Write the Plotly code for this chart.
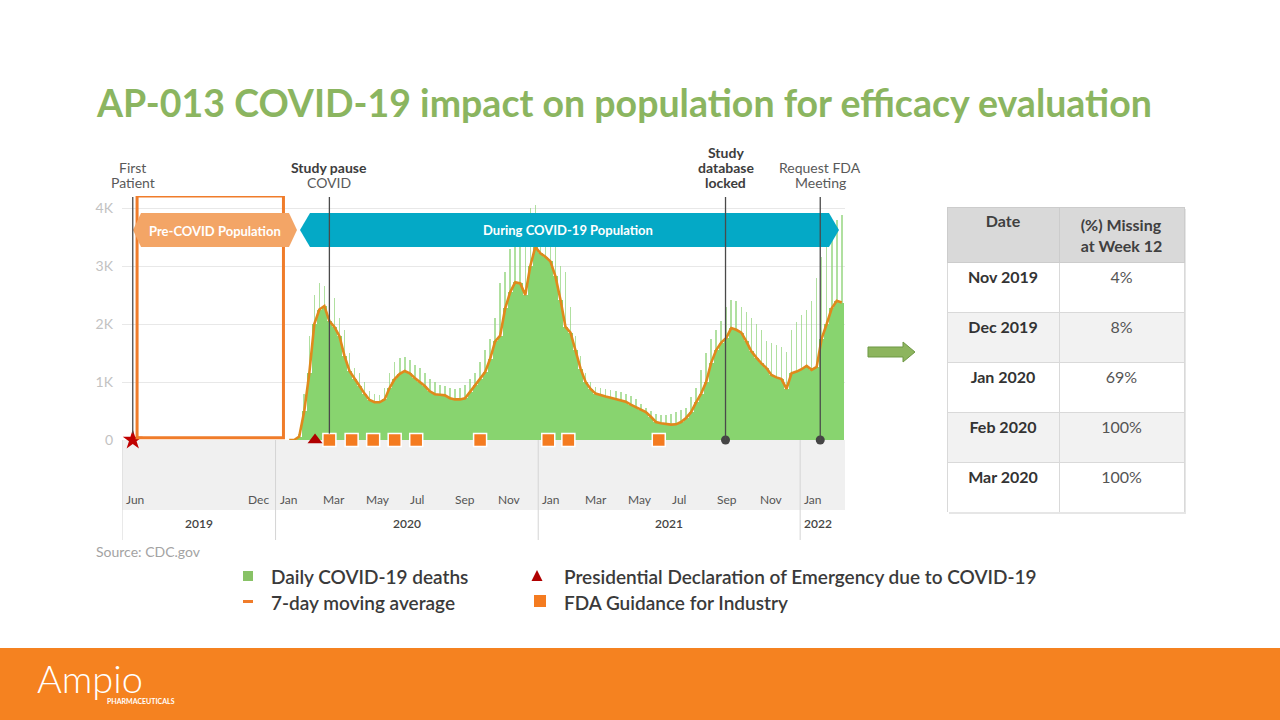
import pandas as pd
import plotly.graph_objects as go

# ---------------- data ----------------
week_start = "2020-01-20"
avg7 = [0, 0, 60, 500, 1150, 2000, 2250, 2310, 2050, 1950,
        1790, 1450, 1190, 1050, 930, 800, 690, 650, 650, 700,
        900, 1050, 1140, 1190, 1150, 1070, 1000, 930, 840, 790,
        780, 770, 720, 700, 700, 720, 830, 950, 1050, 1170,
        1400, 1700, 1800, 2270, 2550, 2720, 2700, 2500, 3000, 3330,
        3220, 3160, 3080, 2820, 2420, 1950, 1850, 1560, 1230, 1000,
        880, 800, 770, 750, 730, 710, 690, 660, 610, 570,
        520, 480, 400, 310, 290, 280, 265, 270, 310, 380,
        480, 650, 800, 1000, 1330, 1550, 1680, 1760, 1930, 1900,
        1850, 1700, 1530, 1420, 1320, 1240, 1120, 1080, 1050, 880,
        1150, 1180, 1220, 1280, 1210, 1260, 1750, 2000, 2270, 2400, 2370]
daily_peak = [0, 0, 100, 800, 1800, 2500, 2700, 2650, 2550, 2450,
              2100, 1900, 1500, 1250, 1150, 1000, 850, 800, 780, 900,
              1150, 1350, 1420, 1430, 1380, 1300, 1250, 1150, 1050, 1000,
              950, 930, 900, 880, 900, 950, 1050, 1150, 1350, 1550,
              1750, 2100, 2700, 2900, 3300, 3400, 3500, 3650, 4000, 4050,
              3900, 3800, 3500, 3400, 3000, 2900, 2300, 1800, 1450, 1150,
              1000, 920, 900, 880, 860, 850, 820, 800, 760, 700,
              620, 550, 500, 450, 430, 430, 450, 480, 520, 560,
              750, 900, 1200, 1500, 1750, 1900, 2050, 2300, 2420, 2400,
              2300, 2200, 2100, 2000, 1900, 1700, 1680, 1640, 1600, 1520,
              1900, 2030, 2150, 2240, 2400, 2790, 3150, 3400, 3500, 3800, 3880]

fda_guidance_dates = ["2020-03-16", "2020-04-16", "2020-05-16", "2020-06-15", "2020-07-15",
                      "2020-10-12", "2021-01-15", "2021-02-12", "2021-06-18"]
emergency_dates = ["2020-02-25"]

event_dates = ["2019-06-16", "2020-03-16", "2021-09-19", "2022-01-29"]
event_lines = [[("First", False), ("Patient", False)],
               [("Study pause", True), ("COVID", False)],
               [("Study", True), ("database", True), ("locked", True)],
               [("Request FDA", False), ("Meeting", False)]]
star_dates = ["2019-06-16"]
dot_dates = ["2021-09-19", "2022-01-29"]

precovid_box = ["2019-06-22", "2020-01-12"]

month_dates = ["2019-06-01", "2019-12-01", "2020-01-01", "2020-03-01", "2020-05-01", "2020-07-01",
               "2020-09-01", "2020-11-01", "2021-01-01", "2021-03-01", "2021-05-01", "2021-07-01",
               "2021-09-01", "2021-11-01", "2022-01-01"]
month_labels = ["Jun", "Dec", "Jan", "Mar", "May", "Jul", "Sep", "Nov",
                "Jan", "Mar", "May", "Jul", "Sep", "Nov", "Jan"]
year_bounds = ["2019-06-01", "2020-01-01", "2021-01-01", "2022-01-01", "2022-03-04 12:00"]
year_labels = ["2019", "2020", "2021", "2022"]

y_ticks = [0, 1000, 2000, 3000, 4000]
y_tick_labels = ["0", "1K", "2K", "3K", "4K"]

table_dates = ["Nov 2019", "Dec 2019", "Jan 2020", "Feb 2020", "Mar 2020"]
table_missing = ["4%", "8%", "69%", "100%", "100%"]

# ---------------- helpers ----------------
W, H = 1280, 720
def px(x): return x / W
def py(y): return 1 - y / H
def poly(points):
    return "M " + " L ".join(f"{px(a):.5f},{py(b):.5f}" for a, b in points) + " Z"

FONT = "Lato, 'Open Sans', sans-serif"
DAY_MS = 86400000
weeks = pd.date_range(week_start, periods=len(avg7), freq="7D")
YMAX = 4207

def text(x, y, s, size, color, xanchor="center", weight=None, xref="paper", xshift=0):
    f = dict(size=size, color=color)
    if weight:
        f["weight"] = weight
    return dict(x=x, y=py(y), xref=xref, yref="paper", text=s, showarrow=False,
                xanchor=xanchor, yanchor="middle", xshift=xshift, font=f, borderpad=0)

fig = go.Figure()
fig.add_trace(go.Bar(x=weeks, y=daily_peak, width=2.2 * DAY_MS,
                     marker=dict(color="rgba(150,214,128,0.75)", line=dict(width=0)), hoverinfo="skip"))
fig.add_trace(go.Bar(x=weeks, y=avg7, width=7 * DAY_MS,
                     marker=dict(color="#88d46f", line=dict(width=0)), name="Daily COVID-19 deaths"))
fig.add_trace(go.Scatter(x=weeks, y=avg7, mode="lines", line=dict(color="#E0891C", width=2.6),
                         name="7-day moving average"))
fig.add_trace(go.Scatter(x=fda_guidance_dates, y=[0] * len(fda_guidance_dates), mode="markers",
                         marker=dict(symbol="square", size=13, color="#F47B20", line=dict(color="white", width=1.5)),
                         cliponaxis=False, name="FDA Guidance for Industry"))
fig.add_trace(go.Scatter(x=emergency_dates, y=[0] * len(emergency_dates), mode="markers",
                         marker=dict(symbol="triangle-up", size=13, color="#B00000"),
                         cliponaxis=False, name="Presidential Declaration"))
fig.add_trace(go.Scatter(x=star_dates, y=[0], mode="markers",
                         marker=dict(symbol="star", size=15, color="#C00000"), cliponaxis=False))
fig.add_trace(go.Scatter(x=dot_dates, y=[0] * len(dot_dates), mode="markers",
                         marker=dict(symbol="circle", size=9, color="#454545"), cliponaxis=False))

# table
row_fill = ["white" if i % 2 == 0 else "#f2f2f2" for i in range(len(table_dates))]
fig.add_trace(go.Table(
    domain=dict(x=[px(947), px(1184)], y=[py(512), py(207)]),
    columnwidth=[112, 125],
    header=dict(values=["Date", "(%) Missing<br>at Week 12"],
                fill_color="#d9d9d9", line_color="#cccccc", align="center",
                font=dict(family=FONT, size=16, color="#404040", weight=700), height=48),
    cells=dict(values=[table_dates, table_missing],
               fill_color=[row_fill, row_fill], line_color="#d9d9d9", align="center",
               font=dict(family=FONT, size=16, color=["#333333", "#555555"], weight=[700, 400]),
               height=50)))

shapes = []
ann = []

# band under the axis
shapes.append(dict(type="rect", xref="paper", yref="paper", x0=px(122), x1=px(845), y0=py(510), y1=py(440),
                   fillcolor="#f0f0f0", line=dict(width=0), layer="below"))
for b in year_bounds[:-1]:
    shapes.append(dict(type="line", xref="x", yref="paper", x0=b, x1=b, y0=py(540), y1=py(440),
                       line=dict(color="#d4d4d4", width=1), layer="below"))
for d, lab in zip(month_dates, month_labels):
    if lab == "Dec":
        ann.append(text(d, 499, lab, 12, "#555555", xanchor="right", xref="x", xshift=17))
    else:
        ann.append(text(d, 499, lab, 12, "#555555", xanchor="left", xref="x", xshift=3))
ts = [pd.Timestamp(b) for b in year_bounds]
for i, lab in enumerate(year_labels):
    if i < len(year_labels) - 1:
        mid = ts[i] + (ts[i + 1] - ts[i]) / 2
        ann.append(text(mid, 523, lab, 12, "#444444", weight=600, xref="x"))
    else:
        ann.append(text(ts[i], 523, lab, 12, "#444444", xanchor="left", weight=600, xref="x", xshift=3))

# pre-covid box
shapes.append(dict(type="rect", xref="x", yref="y", x0=precovid_box[0], x1=precovid_box[1], y0=40, y1=YMAX,
                   line=dict(color="#F07C2A", width=3), layer="above"))
# population arrows
shapes.append(dict(type="path", xref="paper", yref="paper",
                   path=poly([(133, 230), (141, 213), (289, 213), (297, 230), (289, 247), (141, 247)]),
                   fillcolor="#F3A566", line=dict(width=0), layer="above"))
shapes.append(dict(type="path", xref="paper", yref="paper",
                   path=poly([(300, 230), (310, 213), (829, 213), (839, 230), (829, 247), (310, 247)]),
                   fillcolor="#04A9C6", line=dict(width=0), layer="above"))
ann.append(text(px(215), 231, "<b>Pre-COVID Population</b>", 13, "white"))
ann.append(text(px(568), 230, "<b>During COVID-19 Population</b>", 13, "white"))

# event lines + labels
for d, lines in zip(event_dates, event_lines):
    end = 0 if d in dot_dates else 110
    shapes.append(dict(type="line", xref="x", yref="y", x0=d, x1=d, y0=end, y1=(440 - 197) / 58 * 1000,
                       line=dict(color="#4a4a4a", width=1.3), layer="above"))
    n = len(lines)
    for k, (txt, bold) in enumerate(lines):
        yy = 182 - (n - 1 - k) * 15
        ann.append(text(d, yy, f"<b>{txt}</b>" if bold else txt, 14,
                        "#3d3d3d" if bold else "#595959", xref="x"))

# title / source
ann.append(text(px(95), 103, "<b>AP-013 COVID-19 impact on population for efficacy evaluation</b>",
                37.5, "#8BB560", xanchor="left"))
ann.append(text(px(95), 551, "Source: CDC.gov", 14, "#a3a3a3", xanchor="left"))

# legend
shapes.append(dict(type="rect", xref="paper", yref="paper", x0=px(243), x1=px(253), y0=py(581), y1=py(571),
                   fillcolor="#88c266", line=dict(width=0)))
shapes.append(dict(type="rect", xref="paper", yref="paper", x0=px(243), x1=px(253), y0=py(603), y1=py(600),
                   fillcolor="#F07C2A", line=dict(width=0)))
shapes.append(dict(type="path", xref="paper", yref="paper", path=poly([(537, 570), (531.5, 581), (542.5, 581)]),
                   fillcolor="#B00000", line=dict(width=0)))
shapes.append(dict(type="rect", xref="paper", yref="paper", x0=px(534), x1=px(546), y0=py(607), y1=py(595),
                   fillcolor="#F47B20", line=dict(width=0)))
for (tx, ty, txt) in [(270, 576, "Daily COVID-19 deaths"), (270, 602, "7-day moving average"),
                      (563, 576, "Presidential Declaration of Emergency due to COVID-19"),
                      (563, 602, "FDA Guidance for Industry")]:
    ann.append(text(px(tx), ty, txt, 19, "#3a3a3a", xanchor="left", weight=600))

# green block arrow
shapes.append(dict(type="path", xref="paper", yref="paper",
                   path=poly([(868, 347), (903, 347), (903, 342), (915, 352), (903, 362), (903, 357), (868, 357)]),
                   fillcolor="#8DB55E", line=dict(color="#6E9845", width=1)))
# table shadow
shapes.append(dict(type="rect", xref="paper", yref="paper", x0=px(949), x1=px(1186), y0=py(514), y1=py(209),
                   fillcolor="#e6e6e6", line=dict(width=0), layer="below"))

# footer
shapes.append(dict(type="rect", xref="paper", yref="paper", x0=0, x1=1, y0=-0.05, y1=py(648),
                   fillcolor="#F58220", line=dict(width=0), layer="below"))
ann.append(text(px(36), 678, "Ampio", 38, "white", xanchor="left", weight=300))
ann.append(text(px(106), 701, "<b>PHARMACEUTICALS</b>", 7, "white", xanchor="left"))

fig.update_layout(
    width=W, height=H, autosize=False, margin=dict(l=0, r=0, t=0, b=0, pad=0, autoexpand=False),
    paper_bgcolor="white", plot_bgcolor="rgba(0,0,0,0)",
    barmode="overlay", bargap=0, showlegend=False,
    font=dict(family=FONT, color="#444444"),
    xaxis=dict(type="date", range=[year_bounds[0], year_bounds[-1]], domain=[px(122), px(845)],
               showgrid=False, showticklabels=False, zeroline=False, showline=False, ticks="",
               automargin=False),
    yaxis=dict(range=[0, YMAX], domain=[py(440), py(196)], tickvals=y_ticks, ticktext=y_tick_labels,
               gridcolor="#e8e8e8", gridwidth=1, zeroline=False, showline=False, ticks="",
               tickfont=dict(size=14, color="#c2c2c2"), ticklabelstandoff=8, automargin=False),
    shapes=shapes, annotations=ann,
)

fig.write_html("out.html", config={"responsive": False})
